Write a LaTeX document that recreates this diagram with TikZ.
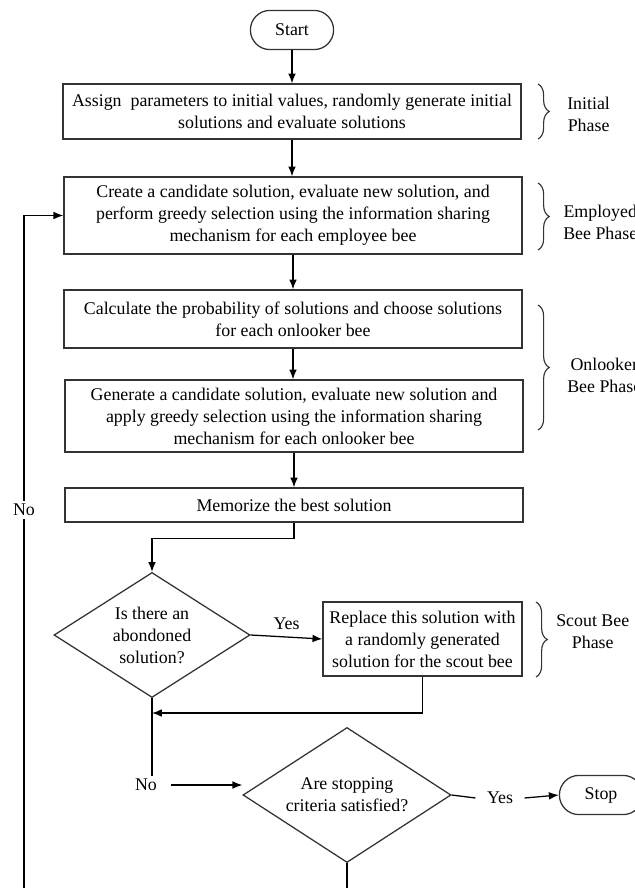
\documentclass[tikz,border=0pt]{standalone}
\usepackage{fontspec}
\setmainfont{Liberation Serif}
\usetikzlibrary{arrows.meta,shapes.geometric,decorations.pathreplacing}

\begin{document}
\begin{tikzpicture}[
    x=0.025cm, y=-0.025cm,
    every node/.style={font=\fontsize{12.7}{15.6}\selectfont},
    procbox/.style={
        draw=lineGray, line width=0.9pt, align=center,
        minimum width=11.45cm, inner sep=2pt
    },
    termbox/.style={
        draw=lineGray, line width=0.9pt, rounded corners=0.49cm,
        minimum width=2.08cm, minimum height=0.98cm
    },
    decbox/.style={
        draw=lineGray, line width=0.9pt, diamond, shape aspect=1.55,
        align=center, inner sep=0pt
    },
    phaselbl/.style={align=center, anchor=west, inner sep=0pt},
    phasebrace/.style={
        draw=lineGray, line width=0.8pt, decorate,
        decoration={brace, amplitude=8pt}
    },
    flowarrow/.style={draw=black, line width=0.9pt, -{Latex[length=7pt,width=5.5pt]}},
    flowline/.style={draw=black, line width=0.9pt},
    edgelbl/.style={inner xsep=6pt, inner ysep=2pt}
]

% ============================
% COLOR DEFINITIONS
% ============================
\definecolor{lineGray}{HTML}{333333}

\useasboundingbox (0,0) rectangle (635,888);

% ============================
% MAIN COLUMN
% ============================
\node[termbox] (start) at (292,30) {Start};

\node[procbox, minimum height=1.375cm] (init) at (292,111.5)
    {Assign\ \ parameters to initial values, randomly generate initial\\solutions and evaluate solutions};

\node[procbox, minimum height=1.925cm] (employ) at (293,215.5)
    {Create a candidate solution, evaluate new solution, and\\perform greedy selection using the information sharing\\mechanism for each employee bee};

\node[procbox, minimum height=1.45cm] (prob) at (293,319)
    {Calculate the probability of solutions and choose solutions\\for each onlooker bee};

\node[procbox, minimum height=1.8cm] (onlook) at (294,416)
    {Generate a candidate solution, evaluate new solution and\\apply greedy selection using the information sharing\\mechanism for each onlooker bee};

\node[procbox, minimum height=0.85cm] (memo) at (294,505) {Memorize the best solution};

% ============================
% SCOUT / STOP PART
% ============================
\node[decbox, minimum width=4.9cm, minimum height=3.125cm] (abandon) at (152,635)
    {Is there an\\abondoned\\solution?};

\node[procbox, minimum width=4.975cm, minimum height=1.85cm] (scout) at (422.5,639)
    {Replace this solution with\\a randomly generated\\solution for the scout bee};

\node[decbox, minimum width=5.2cm, minimum height=3.375cm] (stopcheck) at (347,795)
    {Are stopping\\criteria satisfied?};

\node[termbox] (stop) at (601,795) {Stop};

\node[edgelbl, inner xsep=10pt] (noLbl) at (146,785) {No};
\node[edgelbl, inner xsep=8pt] (yesLbl) at (500,798) {Yes};

\coordinate (join) at (152,713);
\coordinate (loopEnd) at (24,888);
\coordinate (stopEnd) at (stopcheck.south |- loopEnd);

% ============================
% CONNECTORS
% ============================
\draw[flowarrow] (start.south) -- (start.south |- init.north);
\draw[flowarrow] (init.south) -- (init.south |- employ.north);
\draw[flowarrow] (employ.south) -- (employ.south |- prob.north);
\draw[flowarrow] (prob.south) -- (prob.south |- onlook.north);
\draw[flowarrow] (onlook.south) -- (onlook.south |- memo.north);
\draw[flowarrow] (memo.south) -- ++(0,16) -| (abandon.north);

\draw[flowarrow] (abandon.east) -- node[above=3pt, edgelbl] (yesA) {Yes} (scout.west);
\draw[flowarrow] (scout.south) |- (join);
\draw[flowline] (abandon.south) -- (abandon.south |- noLbl.north);
\draw[flowarrow] (noLbl.east) -- (noLbl.east -| stopcheck.west);

\draw[flowline] (stopcheck.east) -- (yesLbl.west);
\draw[flowarrow] (yesLbl.east) -- (stop.west);
\draw[flowline] (stopcheck.south) -- (stopEnd);

% loop back to the employed bee phase
\draw[flowarrow] (loopEnd) |- (employ.west);
\node[edgelbl, fill=white] (noLoop) at (24,510) {No};

% ============================
% PHASE BRACES
% ============================
\draw[phasebrace] (538,84) -- (538,139);
\node[phaselbl] (lblInit) at (567,114) {Initial\\Phase};

\draw[phasebrace] (538,183) -- (538,250);
\node[phaselbl] (lblEmploy) at (563,222) {Employed\\Bee Phase};

\draw[phasebrace] (538,305) -- (538,430);
\node[phaselbl] (lblOnlook) at (567,375) {Onlooker\\Bee Phase};

\draw[phasebrace] (536,602) -- (536,677);
\node[phaselbl] (lblScout) at (556,632) {Scout Bee\\Phase};

\end{tikzpicture}
\end{document}
